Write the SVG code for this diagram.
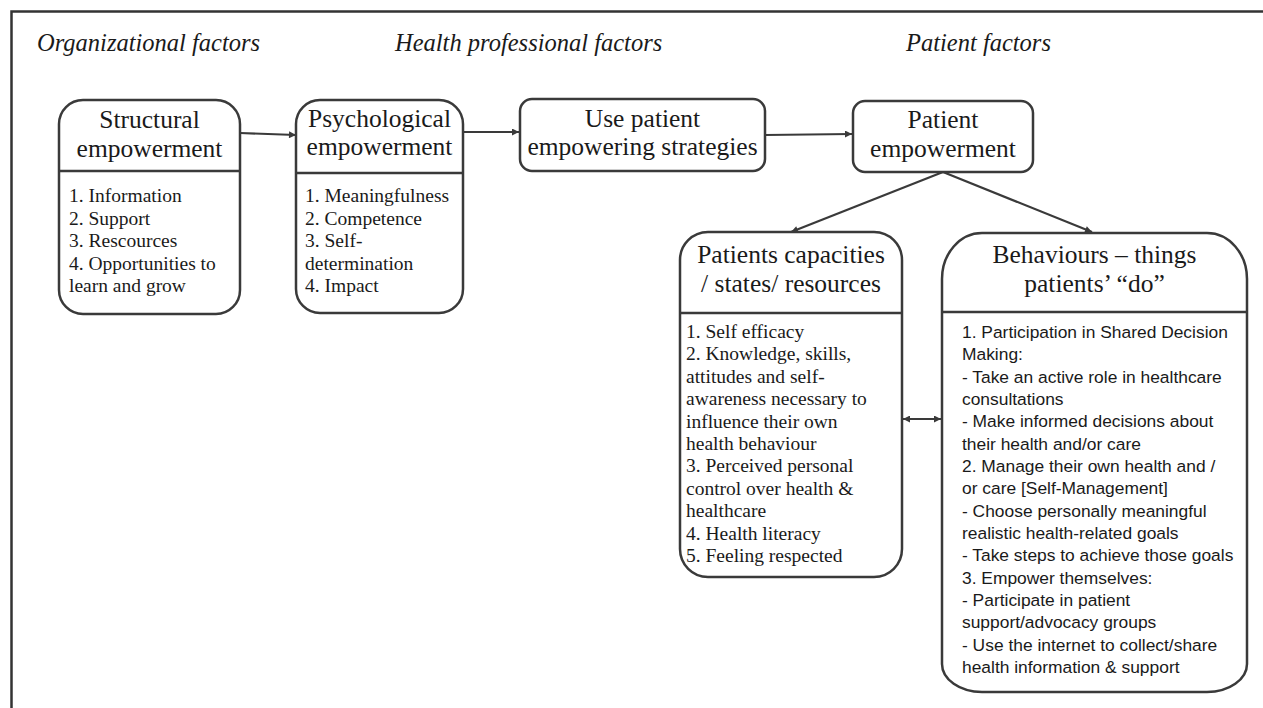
<svg xmlns="http://www.w3.org/2000/svg" width="1263" height="708" viewBox="0 0 1263 708">
<style>
.frame{fill:none;stroke:#333;stroke-width:2.5}
.box{fill:#fff;stroke:#3a3a3a;stroke-width:2.5}
.div{stroke:#3a3a3a;stroke-width:2.5}
.hdr{font-family:"Liberation Serif",serif;font-style:italic;font-size:24.5px;fill:#1a1a1a}
.ttl{font-family:"Liberation Serif",serif;font-size:25.5px;fill:#1a1a1a;text-anchor:middle}
.body{font-family:"Liberation Serif",serif;font-size:19.5px;fill:#1a1a1a}
.sans{font-family:"Liberation Sans",Arial,sans-serif;font-size:17.4px;fill:#1a1a1a}
.conn{fill:none;stroke:#3a3a3a;stroke-width:2.2}
</style>
<defs>
<marker id="ah" viewBox="0 0 10 10" refX="10" refY="5" markerWidth="8" markerHeight="7" markerUnits="userSpaceOnUse" orient="auto-start-reverse">
<path d="M0,0 L10,5 L0,10 z" fill="#3a3a3a"/>
</marker>
</defs>
<rect width="1263" height="708" fill="#fff"/>
<path class="frame" d="M11.5,708 V11.5 H1263"/>

<g id="headers">
<text class="hdr" x="37" y="51">Organizational factors</text>
<text class="hdr" x="395" y="51">Health professional factors</text>
<text class="hdr" x="906" y="51">Patient factors</text>
</g>

<g id="connectors">
<line class="conn" x1="240" y1="133" x2="296" y2="135" marker-end="url(#ah)"/>
<line class="conn" x1="463" y1="132" x2="519" y2="132" marker-end="url(#ah)"/>
<line class="conn" x1="765" y1="135" x2="852" y2="134" marker-end="url(#ah)"/>
<line class="conn" x1="943" y1="172" x2="791" y2="232" marker-end="url(#ah)"/>
<line class="conn" x1="943" y1="172" x2="1092" y2="232" marker-end="url(#ah)"/>
<line class="conn" x1="903" y1="419" x2="941" y2="419" marker-start="url(#ah)" marker-end="url(#ah)"/>
</g>

<g id="structural">
<rect class="box" x="59" y="100" width="181" height="214" rx="24"/>
<line class="div" x1="59" y1="171" x2="240" y2="171"/>
<text class="ttl" x="149.5" y="128">Structural</text>
<text class="ttl" x="149.5" y="157">empowerment</text>
<text class="body"><tspan x="69" y="202">1. Information</tspan><tspan x="69" y="224.5">2. Support</tspan><tspan x="69" y="247">3. Rescources</tspan><tspan x="69" y="269.5">4. Opportunities to</tspan><tspan x="69" y="292">learn and grow</tspan></text>
</g>

<g id="psychological">
<rect class="box" x="296" y="100" width="167" height="213" rx="24"/>
<line class="div" x1="296" y1="173" x2="463" y2="173"/>
<text class="ttl" x="379.5" y="127">Psychological</text>
<text class="ttl" x="379.5" y="155">empowerment</text>
<text class="body"><tspan x="305" y="202">1. Meaningfulness</tspan><tspan x="305" y="224.5">2. Competence</tspan><tspan x="305" y="247">3. Self-</tspan><tspan x="305" y="269.5">determination</tspan><tspan x="305" y="292">4. Impact</tspan></text>
</g>

<g id="strategies">
<rect class="box" x="520" y="99" width="245" height="72" rx="12"/>
<text class="ttl" x="642.5" y="127">Use patient</text>
<text class="ttl" x="642.5" y="155">empowering strategies</text>
</g>

<g id="patient-empowerment">
<rect class="box" x="853" y="101" width="180" height="71" rx="12"/>
<text class="ttl" x="943" y="128">Patient</text>
<text class="ttl" x="943" y="157">empowerment</text>
</g>

<g id="capacities">
<rect class="box" x="680" y="232" width="222" height="345" rx="28"/>
<line class="div" x1="680" y1="313" x2="902" y2="313"/>
<text class="ttl" x="791" y="263">Patients capacities</text>
<text class="ttl" x="791" y="292">/ states/ resources</text>
<text class="body"><tspan x="686" y="338">1. Self efficacy</tspan><tspan x="686" y="360.4">2. Knowledge, skills,</tspan><tspan x="686" y="382.8">attitudes and self-</tspan><tspan x="686" y="405.2">awareness necessary to</tspan><tspan x="686" y="427.6">influence their own</tspan><tspan x="686" y="450">health behaviour</tspan><tspan x="686" y="472.4">3. Perceived personal</tspan><tspan x="686" y="494.8">control over health &amp;</tspan><tspan x="686" y="517.2">healthcare</tspan><tspan x="686" y="539.6">4. Health literacy</tspan><tspan x="686" y="562">5. Feeling respected</tspan></text>
</g>

<g id="behaviours">
<path class="box" d="M982,233 H1207 A40,46 0 0 1 1247,279 V664 A40,28 0 0 1 1207,692 H982 A40,28 0 0 1 942,664 V279 A40,46 0 0 1 982,233 Z"/>
<line class="div" x1="942" y1="312" x2="1247" y2="312"/>
<text class="ttl" x="1094.5" y="263">Behaviours – things</text>
<text class="ttl" x="1094.5" y="292">patients’ “do”</text>
<text class="sans"><tspan x="962" y="338">1. Participation in Shared Decision</tspan><tspan x="962" y="360.3">Making:</tspan><tspan x="962" y="382.7">- Take an active role in healthcare</tspan><tspan x="962" y="405">consultations</tspan><tspan x="962" y="427.3">- Make informed decisions about</tspan><tspan x="962" y="449.7">their health and/or care</tspan><tspan x="962" y="472">2. Manage their own health and /</tspan><tspan x="962" y="494.3">or care [Self-Management]</tspan><tspan x="962" y="516.7">- Choose personally meaningful</tspan><tspan x="962" y="539">realistic health-related goals</tspan><tspan x="962" y="561.3">- Take steps to achieve those goals</tspan><tspan x="962" y="583.7">3. Empower themselves:</tspan><tspan x="962" y="606">- Participate in patient</tspan><tspan x="962" y="628.3">support/advocacy groups</tspan><tspan x="962" y="650.7">- Use the internet to collect/share</tspan><tspan x="962" y="673">health information &amp; support</tspan></text>
</g>
</svg>
